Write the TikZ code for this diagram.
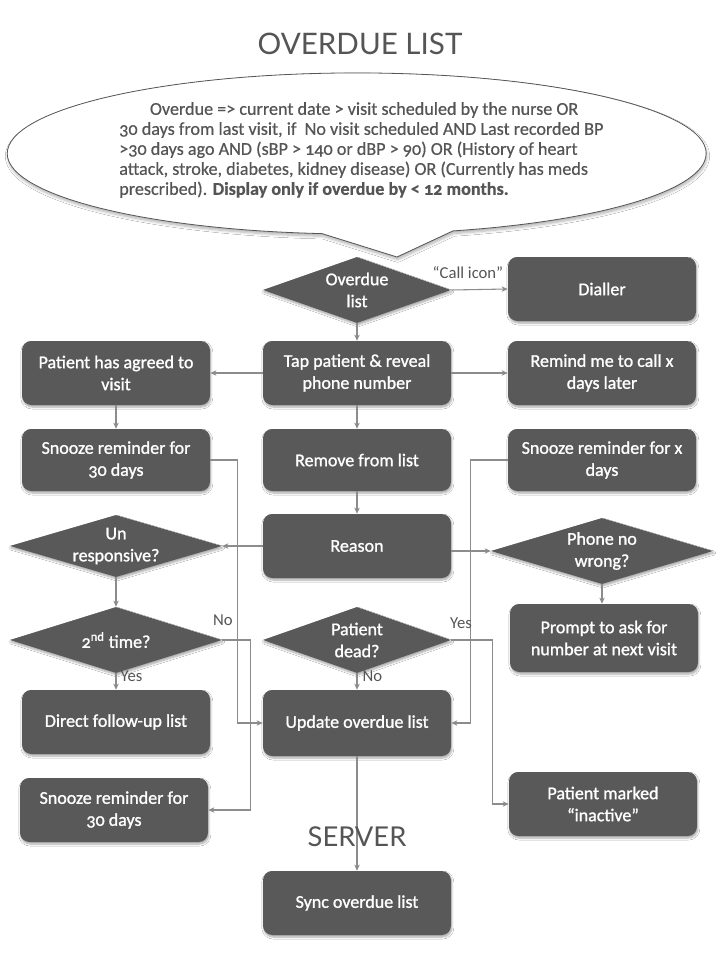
\documentclass[tikz,border=0pt]{standalone}
\usepackage{fontspec}
\setmainfont{Carlito}[Numbers=OldStyle]
\newfontfamily\headfont{Lato}
\newfontfamily\boxfont{Carlito}[Numbers=OldStyle, FakeBold=1.2]
\newfontfamily\notefont{Carlito}[Numbers=OldStyle, FakeBold=0.5]
\usetikzlibrary{shapes.geometric,shadows,shadows.blur,arrows.meta}
\definecolor{boxgray}{HTML}{595959}
\definecolor{linegray}{HTML}{8C8C8C}
\definecolor{textgray}{HTML}{555555}

\begin{document}
\begin{tikzpicture}[x=0.75pt,y=-0.75pt,
  softshadow/.style={blur shadow={shadow xshift=0.6pt, shadow yshift=-1.5pt,
    shadow blur radius=1.5pt, shadow blur steps=6, shadow opacity=35}},
  stepbox/.style={rectangle, rounded corners=7pt, fill=boxgray, text=white,
    minimum width=141pt, minimum height=48pt, align=center, inner sep=2pt,
    font=\boxfont\fontsize{13.5}{16.5}\selectfont, softshadow},
  decision/.style={diamond, fill=boxgray, text=white, inner sep=0pt, align=center,
    font=\boxfont\fontsize{13.5}{16.5}\selectfont, softshadow},
  flow/.style={draw=linegray, line width=0.8pt, -{Stealth[length=4.5pt,width=4pt,inset=1.2pt]}},
  flowlabel/.style={text=textgray, font=\fontsize{12.5}{14}\selectfont, inner sep=1pt},
  heading/.style={text=textgray, font=\headfont\fontsize{20.5}{24}\selectfont}]

\fill[white] (0,0) rectangle (720,960);
\useasboundingbox (0,0) rectangle (720,960);

% headings
\node[heading, font=\headfont\fontsize{22.2}{26}\selectfont] (ttl) at (360,44) {OVERDUE LIST};

% speech bubble with the overdue rule
\coordinate (tip) at (397,257);
\draw[draw=textgray, line width=0.6pt, fill=white,
      blur shadow={shadow xshift=0.6pt, shadow yshift=-2pt, shadow blur radius=2pt,
        shadow blur steps=6, shadow opacity=30}]
  (tip) -- (322,233.6)
  arc[start angle=264.3, end angle=-74, x radius=262.1pt, y radius=60.4pt]
  -- cycle;
\node[anchor=west, align=left, text=textgray, inner sep=0pt,
      font=\notefont\fontsize{13.6}{15}\selectfont] (rule) at (119,150)
  {\hspace*{23pt}Overdue => current date > visit scheduled by the nurse OR\\
   30 days from last visit, if\ \ No visit scheduled AND Last recorded BP\\
   >30 days ago AND (sBP > 140 or dBP > 90) OR (History of heart\\
   attack, stroke, diabetes, kidney disease) OR (Currently has meds\\
   prescribed). \textbf{Display only if overdue by < 12 months.}};

% decisions
\node[decision, minimum width=141pt, minimum height=49.5pt, aspect=2.85] (ov) at (357,290) {Overdue\\list};
\node[decision, minimum width=159pt, minimum height=46.5pt, aspect=3.4] (unresp) at (116,546) {Un\\responsive?};
\node[decision, minimum width=166.5pt, minimum height=49.5pt, aspect=3.36] (phone) at (602,551) {Phone no\\wrong?};
\node[decision, minimum width=159pt, minimum height=49.5pt, aspect=3.2] (second) at (116,640) {2\textsuperscript{nd} time?};
\node[decision, minimum width=141pt, minimum height=49.5pt, aspect=2.85] (dead) at (357,640) {Patient\\dead?};

% process boxes
\node[stepbox] (dial) at (602,289) {Dialler};
\node[stepbox] (tap) at (357,373) {Tap patient \& reveal\\phone number};
\node[stepbox] (agree) at (116,373) {Patient has agreed to\\visit};
\node[stepbox] (remind) at (602,373) {Remind me to call x\\days later};
\node[stepbox, minimum height=46.5pt] (snoozeA) at (116,460) {Snooze reminder for\\30 days};
\node[stepbox, minimum height=46.5pt] (remove) at (357,460) {Remove from list};
\node[stepbox, minimum height=46.5pt] (snoozeX) at (602,460) {Snooze reminder for x\\days};
\node[stepbox] (reason) at (357,546) {Reason};
\node[stepbox, minimum height=51pt] (prompt) at (604,638) {Prompt to ask for\\number at next visit};
\node[stepbox] (follow) at (116,722) {Direct follow-up list};
\node[stepbox, minimum height=49.5pt] (update) at (357,723) {Update overdue list};
\node[stepbox] (snoozeB) at (114,810) {Snooze reminder for\\30 days};
\node[stepbox] (inactive) at (603,804) {Patient marked\\“inactive”};
\node[stepbox] (sync) at (357,903) {Sync overdue list};

% connectors
\draw[flow] (ov.east) -- (dial.west);
\node[flowlabel] (callicon) at (468,273) {“Call icon”};
\draw[flow] (ov.south) -- (tap.north);
\draw[flow] (tap.west) -- (agree.east);
\draw[flow] (tap.east) -- (remind.west);
\draw[flow] (tap.south) -- (remove.north);
\draw[flow] (agree.south) -- (snoozeA.north);
\draw[flow] (remove.south) -- (reason.north);
\draw[flow] (snoozeA.east) -- ++(27,0) |- (update.west);
\draw[flow] (snoozeX.west) -- ++(-37,0) |- (update.east);
\draw[flow] (reason.west) -- (unresp.east);
\draw[flow] (reason.east |- phone.west) -- (phone.west);
\draw[flow] (phone.south) -- (phone.south |- prompt.north);
\draw[flow] (unresp.south) -- (second.north);
\draw[flow] (second.south) -- (follow.north);
\node[flowlabel, anchor=west] (yesA) at (119,676) {Yes};
\draw[flow] (second.east) -- ++(28,0) |- (snoozeB.east);
\node[flowlabel] (noA) at (223,620) {No};
\draw[flow] (dead.south) -- (update.north);
\node[flowlabel, anchor=west] (noB) at (361,676) {No};
\draw[flow] (dead.east) -- ++(41,0) |- (inactive.west);
\node[flowlabel] (yesB) at (461,623) {Yes};
\draw[flow] (update.south) -- (sync.north);

\node[heading] (srv) at (357,837) {SERVER};

\end{tikzpicture}
\end{document}
